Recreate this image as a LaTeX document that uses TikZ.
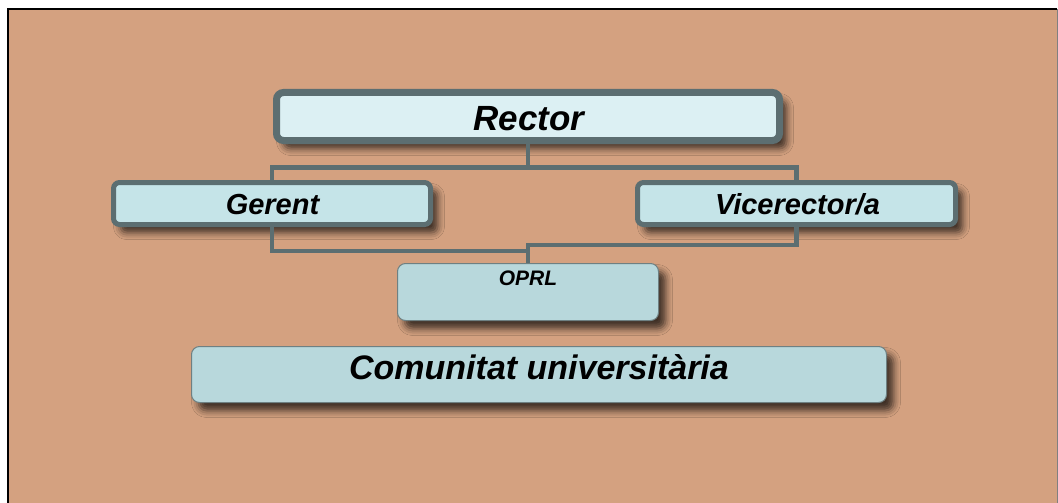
\documentclass[tikz,border=0pt]{standalone}
\usepackage{fontspec}
\setmainfont{Liberation Sans}
\usetikzlibrary{shadows.blur}
\definecolor{bgtan}{RGB}{212,161,128}
\definecolor{edge}{RGB}{92,110,113}
\definecolor{thinedge}{RGB}{110,128,130}
\definecolor{fillA}{RGB}{220,240,243}
\definecolor{fillB}{RGB}{197,228,232}
\definecolor{fillC}{RGB}{184,216,220}
\tikzset{
  boxshadow/.style={blur shadow={shadow xshift=7pt,shadow yshift=-8pt,shadow blur radius=7pt,shadow opacity=70}},
  topbox/.style={draw=edge,line width=7pt,fill=fillA,rounded corners=7pt,inner sep=0pt,boxshadow},
  midbox/.style={draw=edge,line width=5pt,fill=fillB,rounded corners=6pt,inner sep=0pt,boxshadow},
  lowbox/.style={draw=thinedge,line width=1pt,fill=fillC,rounded corners=8pt,inner sep=0pt,boxshadow},
  lbl/.style={anchor=base,inner sep=0pt,font=\bfseries\itshape},
  conn/.style={draw=edge,line width=4.5pt,line join=miter}
}
\begin{document}
\begin{tikzpicture}[x=1pt,y=-1pt]
\useasboundingbox (0,0) rectangle (1058,503);
\fill[white] (0,0) rectangle (1058,503);
\fill[bgtan] (8,9) rectangle (1057,530);
\draw[black,line width=2pt] (8,530) -- (8,9) -- (1057,9);
\draw[gray,line width=0.8pt] (1057,9) -- (1057,530);
% boxes
\node[topbox,minimum width=503pt,minimum height=48pt] (rector) at (528,116.5) {};
\node[midbox,minimum width=317pt,minimum height=42pt] (gerent) at (272,203.5) {};
\node[midbox,minimum width=318pt,minimum height=42pt] (vice) at (796.5,203.5) {};
\node[lowbox,minimum width=261pt,minimum height=57pt] (oprl) at (528,292) {};
\node[lowbox,minimum width=695pt,minimum height=56pt] (comu) at (539,374.5) {};
% labels
\node[lbl,font=\fontsize{35}{40}\selectfont\bfseries\itshape] (trector) at (529,130.7) {Rector};
\node[lbl,font=\fontsize{29}{34}\selectfont\bfseries\itshape] (tgerent) at (272.5,214) {Gerent};
\node[lbl,font=\fontsize{29}{34}\selectfont\bfseries\itshape] (tvice) at (797.5,214) {Vicerector/a};
\node[lbl,font=\fontsize{21}{25}\selectfont\bfseries\itshape] (toprl) at (528,285) {OPRL};
\node[lbl,font=\fontsize{34}{40}\selectfont\bfseries\itshape] (tcomu) at (539,379.3) {Comunitat universitària};
% connectors
\coordinate (barY) at (0,167.5);
\coordinate (gY) at (0,251);
\coordinate (vY) at (0,245);
\draw[conn] (rector.south) -- (rector.south |- barY);
\draw[conn] (gerent.north) -- (gerent.north |- barY) -- (vice.north |- barY) -- (vice.north);
\draw[conn] (gerent.south) -- (gerent.south |- gY) -- (oprl.north |- gY);
\draw[conn] (vice.south) -- (vice.south |- vY) -- (oprl.north |- vY) -- (oprl.north);
\end{tikzpicture}
\end{document}
